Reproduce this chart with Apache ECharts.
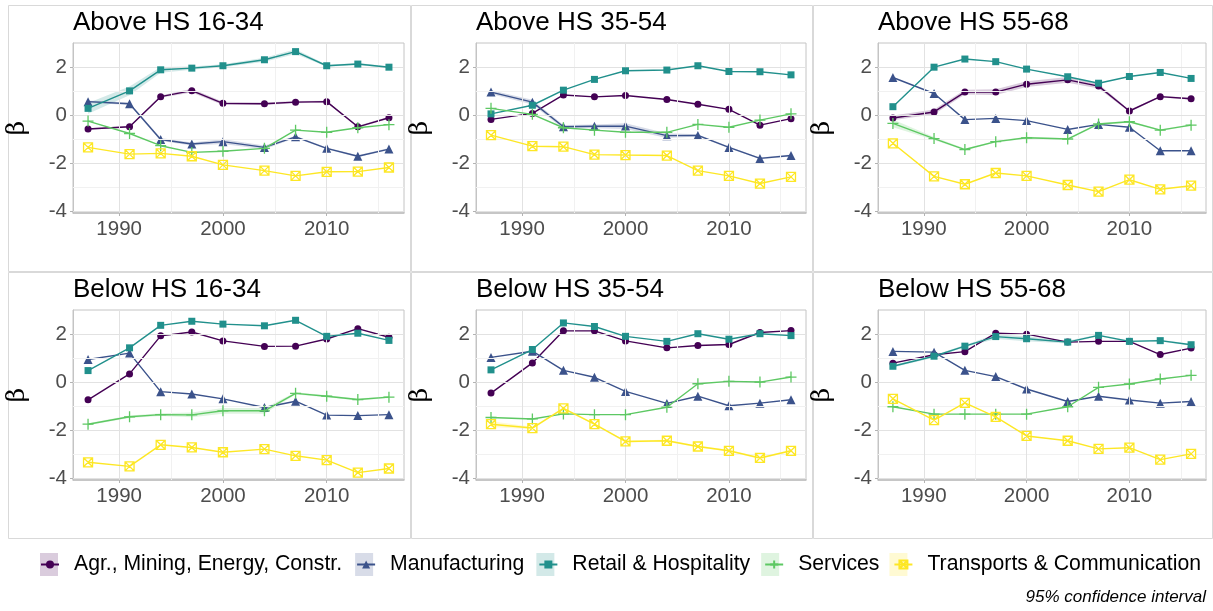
<!DOCTYPE html>
<html>
<head>
<meta charset="utf-8">
<script src="https://cdn.jsdelivr.net/npm/echarts@6/dist/echarts.min.js"></script>
<style>
html, body { margin: 0; padding: 0; background: #fff; }
#main { width: 1213px; height: 611px; }
</style>
</head>
<body>
<div id="main"></div>
<script>
var years = [1987, 1991, 1994, 1997, 2000, 2004, 2007, 2010, 2013, 2016];
var panels = ['Above HS 16-34', 'Above HS 35-54', 'Above HS 55-68', 'Below HS 16-34', 'Below HS 35-54', 'Below HS 55-68'];
var sectors = ['Agr., Mining, Energy, Constr.', 'Manufacturing', 'Retail & Hospitality', 'Services', 'Transports & Communication'];
var colors = ['#440154', '#3b528b', '#21908c', '#5dc863', '#fde725'];
var lightColors = ['rgba(68,1,84,0.2)', 'rgba(59,82,139,0.2)', 'rgba(33,144,140,0.2)', 'rgba(93,200,99,0.2)', 'rgba(253,231,37,0.2)'];

// one row per panel, same order as panels
var agr = [
    [-0.57, -0.48, 0.78, 1.03, 0.50, 0.48, 0.55, 0.57, -0.48, -0.10],
    [-0.17, 0.08, 0.85, 0.77, 0.83, 0.66, 0.46, 0.25, -0.41, -0.14],
    [-0.11, 0.14, 0.97, 0.97, 1.30, 1.48, 1.22, 0.18, 0.78, 0.69],
    [-0.73, 0.35, 1.94, 2.10, 1.73, 1.50, 1.51, 1.81, 2.24, 1.88],
    [-0.45, 0.81, 2.15, 2.15, 1.73, 1.44, 1.54, 1.58, 2.08, 2.16],
    [0.80, 1.15, 1.28, 2.05, 2.01, 1.68, 1.71, 1.71, 1.16, 1.43]
];
var manu = [
    [0.57, 0.48, -1.01, -1.20, -1.10, -1.34, -0.90, -1.38, -1.71, -1.41],
    [0.97, 0.55, -0.48, -0.46, -0.45, -0.85, -0.84, -1.34, -1.80, -1.68],
    [1.58, 0.91, -0.18, -0.13, -0.22, -0.59, -0.38, -0.50, -1.48, -1.48],
    [0.95, 1.22, -0.39, -0.49, -0.69, -1.05, -0.79, -1.37, -1.39, -1.35],
    [1.04, 1.30, 0.50, 0.21, -0.38, -0.88, -0.58, -0.98, -0.87, -0.73],
    [1.29, 1.26, 0.50, 0.24, -0.28, -0.80, -0.58, -0.74, -0.87, -0.80]
];
var retail = [
    [0.29, 1.02, 1.90, 1.97, 2.07, 2.32, 2.66, 2.07, 2.14, 2.01],
    [0.06, 0.42, 1.05, 1.50, 1.86, 1.89, 2.07, 1.83, 1.82, 1.69],
    [0.36, 2.01, 2.35, 2.24, 1.93, 1.61, 1.34, 1.62, 1.79, 1.54],
    [0.49, 1.44, 2.38, 2.55, 2.43, 2.36, 2.59, 1.92, 2.05, 1.75],
    [0.52, 1.37, 2.48, 2.33, 1.92, 1.71, 2.03, 1.80, 2.03, 1.95],
    [0.67, 1.09, 1.51, 1.91, 1.82, 1.68, 1.96, 1.71, 1.74, 1.57]
];
var services = [
    [-0.24, -0.76, -1.27, -1.55, -1.50, -1.38, -0.62, -0.71, -0.52, -0.39],
    [0.29, 0.04, -0.52, -0.62, -0.71, -0.71, -0.38, -0.50, -0.20, 0.06],
    [-0.34, -0.97, -1.43, -1.10, -0.94, -0.99, -0.36, -0.27, -0.62, -0.41],
    [-1.75, -1.44, -1.35, -1.36, -1.19, -1.19, -0.46, -0.58, -0.72, -0.62],
    [-1.47, -1.53, -1.32, -1.35, -1.35, -1.04, -0.06, 0.04, 0.01, 0.22],
    [-1.02, -1.33, -1.33, -1.33, -1.33, -1.02, -0.21, -0.07, 0.14, 0.29]
];
var transport = [
    [-1.34, -1.62, -1.59, -1.71, -2.07, -2.31, -2.53, -2.36, -2.35, -2.18],
    [-0.83, -1.29, -1.31, -1.64, -1.66, -1.68, -2.31, -2.53, -2.85, -2.57],
    [-1.17, -2.55, -2.88, -2.41, -2.53, -2.91, -3.19, -2.69, -3.09, -2.94],
    [-3.34, -3.51, -2.61, -2.72, -2.92, -2.79, -3.07, -3.25, -3.77, -3.60],
    [-1.75, -1.91, -1.09, -1.75, -2.47, -2.44, -2.68, -2.86, -3.16, -2.86],
    [-0.69, -1.58, -0.86, -1.44, -2.24, -2.44, -2.78, -2.73, -3.23, -2.99]
];
var values = [agr, manu, retail, services, transport];

// 95% CI half widths where the ribbon is visible: [panel, sector, widths]
var ciBands = [
    [0, 2, [0.22, 0.18, 0.12, 0.07, 0.06, 0.08, 0.10, 0.04, 0.04, 0.04]],
    [0, 0, [0.03, 0.03, 0.05, 0.08, 0.07, 0.05, 0.05, 0.04, 0.04, 0.04]],
    [0, 1, [0.05, 0.05, 0.06, 0.06, 0.10, 0.08, 0.05, 0.04, 0.04, 0.04]],
    [1, 1, [0.08, 0.10, 0.08, 0.08, 0.12, 0.10, 0.05, 0.04, 0.04, 0.04]],
    [2, 0, [0.10, 0.10, 0.10, 0.12, 0.12, 0.12, 0.10, 0.04, 0.04, 0.04]],
    [2, 3, [0.16, 0.06, 0.04, 0.04, 0.04, 0.04, 0.04, 0.04, 0.04, 0.04]],
    [3, 3, [0.04, 0.05, 0.06, 0.10, 0.12, 0.12, 0.05, 0.04, 0.04, 0.04]],
    [4, 4, [0.12, 0.05, 0.04, 0.04, 0.04, 0.04, 0.04, 0.04, 0.04, 0.04]],
    [5, 2, [0.05, 0.05, 0.05, 0.10, 0.10, 0.06, 0.04, 0.04, 0.04, 0.04]]
];

var xMajor = [1990, 2000, 2010];
var xMinor = [1995, 2005, 2015];
var yMajor = [-4, -2, 0, 2];
var yMinor = [-3, -1, 1];

var plusPath = 'path://M5,0L5,10M0,5L10,5';
var sqCrossPath = 'path://M0,0L10,0L10,10L0,10ZM0,0L10,10M10,0L0,10';
var symbols = ['circle', 'triangle', 'rect', plusPath, sqCrossPath];
var symbolSizes = [7, 9, 7, 11, 9];

var cellLeft = [8, 411, 813];
var cellW = [402, 401, 399];
var cellTop = [5, 272];
var font = 'Liberation Sans, Arial, sans-serif';

var grids = [], xAxes = [], yAxes = [], titles = [], series = [], graphics = [];

for (var p = 0; p < 6; p++) {
    var col = p % 3, row = Math.floor(p / 3);
    var gl = cellLeft[col] + 65;
    var gr = cellLeft[col] + cellW[col] - 6;
    var gt = cellTop[row] + 38;
    grids.push({
        left: gl, top: gt, width: gr - gl, height: 170,
        show: true, borderColor: '#c4c4c4', borderWidth: 1
    });
    xAxes.push({
        type: 'value', gridIndex: p, min: 1985.55, max: 2017.45,
        axisLine: { show: true, onZero: false, lineStyle: { color: '#bdbdbd', width: 1.5 } },
        axisTick: { show: true, length: 3, customValues: xMajor, lineStyle: { color: '#b3b3b3' } },
        axisLabel: {
            customValues: xMajor, fontSize: 20.5, color: '#4d4d4d', fontFamily: font, margin: 6,
            formatter: function (v) { return String(v); }
        },
        splitLine: { show: false }
    });
    yAxes.push({
        type: 'value', gridIndex: p, min: -4.08, max: 3.02,
        name: 'β', nameLocation: 'middle', nameGap: 43, nameRotate: 90,
        nameTextStyle: { fontSize: 25, color: '#000', fontFamily: 'DejaVu Serif, serif' },
        axisLine: { show: true, lineStyle: { color: '#c4c4c4' } },
        axisTick: { show: true, length: 3, customValues: yMajor, lineStyle: { color: '#b3b3b3' } },
        axisLabel: { customValues: yMajor, fontSize: 20.5, color: '#4d4d4d', fontFamily: font, margin: 6 },
        splitLine: { show: false }
    });
    titles.push({
        text: panels[p], left: gl - 5, top: cellTop[row],
        textStyle: { fontSize: 26, fontWeight: 'normal', color: '#000', fontFamily: font }
    });
    graphics.push({
        type: 'rect', silent: true, z: -10,
        shape: { x: cellLeft[col] + 0.5, y: cellTop[row] + 0.5, width: cellW[col], height: 266 },
        style: { fill: 'none', stroke: '#d9d9d9', lineWidth: 1 }
    });

    // grid lines
    var gridLines = [];
    xMinor.forEach(function (v) { gridLines.push({ xAxis: v, lineStyle: { color: '#f1f1f1' } }); });
    yMinor.forEach(function (v) { gridLines.push({ yAxis: v, lineStyle: { color: '#f1f1f1' } }); });
    xMajor.forEach(function (v) { gridLines.push({ xAxis: v, lineStyle: { color: '#e2e2e2' } }); });
    yMajor.forEach(function (v) { gridLines.push({ yAxis: v, lineStyle: { color: '#e2e2e2' } }); });
    series.push({
        type: 'line', name: 'grid' + p, xAxisIndex: p, yAxisIndex: p, z: 1,
        data: [[2000, 0]], symbol: 'none', silent: true,
        lineStyle: { width: 0 },
        markLine: {
            silent: true, symbol: ['none', 'none'], label: { show: false },
            lineStyle: { type: 'solid', width: 1 },
            animation: false, data: gridLines
        }
    });
}

// ribbons: one polygon per band, drawn through the axes
ciBands.forEach(function (b) {
    var p = b[0], s = b[1], hw = b[2];
    var v = values[s][p];
    var rows = years.map(function (y, i) { return [y, v[i] - hw[i], v[i] + hw[i]]; });
    series.push({
        type: 'custom', name: 'ci' + p + '-' + s, xAxisIndex: p, yAxisIndex: p, z: 2,
        silent: true,
        data: rows,
        encode: { x: 0, y: [1, 2] },
        renderItem: function (params, api) {
            if (params.dataIndex !== 0) return null;
            var upper = [], lower = [];
            rows.forEach(function (r) {
                upper.push(api.coord([r[0], r[2]]));
                lower.unshift(api.coord([r[0], r[1]]));
            });
            return {
                type: 'polygon',
                shape: { points: upper.concat(lower) },
                style: { fill: lightColors[s] }
            };
        }
    });
});

// lines and points
for (var p2 = 0; p2 < 6; p2++) {
    for (var s = 0; s < 5; s++) {
        var open = s >= 3;
        series.push({
            type: 'line', name: sectors[s], xAxisIndex: p2, yAxisIndex: p2, z: 3 + s,
            data: years.map(function (y, i) { return [y, values[s][p2][i]]; }),
            symbol: symbols[s], symbolSize: symbolSizes[s], showAllSymbol: true,
            color: colors[s],
            lineStyle: { color: colors[s], width: 1.4 },
            itemStyle: open ? { color: 'rgba(0,0,0,0)', borderColor: colors[s], borderWidth: 1.3 } : { color: colors[s] },
            emphasis: { disabled: true }
        });
    }
}

titles.push({
    text: '95% confidence interval', right: 2, top: 584,
    textStyle: { fontSize: 17, fontStyle: 'italic', fontWeight: 'normal', color: '#000', fontFamily: font }
});

var legendText = { fontSize: 21.2, fontFamily: font, padding: [0, 0, 0, 10] };
// key boxes (ribbon fill) behind the line + point keys
var legendBoxes = {
    data: sectors.map(function (name, i) {
        return { name: name, icon: 'rect', itemStyle: { color: lightColors[i], borderWidth: 0 } };
    }),
    left: 40, top: 553, padding: 0, selectedMode: false,
    itemWidth: 18, itemHeight: 23, itemGap: 14,
    textStyle: Object.assign({ color: 'rgba(0,0,0,0)' }, legendText)
};
var legendKeys = {
    data: sectors, left: 40, top: 554, padding: 0, selectedMode: false,
    itemWidth: 18, itemHeight: 10, itemGap: 14,
    textStyle: Object.assign({ color: '#000' }, legendText)
};

var myChart = echarts.init(document.getElementById('main'));
myChart.setOption({
    backgroundColor: '#fff',
    animation: false,
    title: titles,
    grid: grids,
    xAxis: xAxes,
    yAxis: yAxes,
    legend: [legendBoxes, legendKeys],
    graphic: graphics,
    series: series
});
</script>
</body>
</html>
